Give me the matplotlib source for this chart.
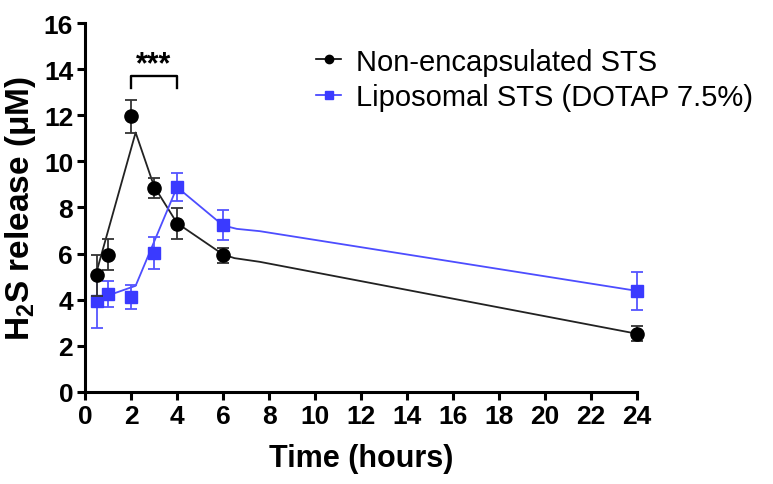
import matplotlib
matplotlib.use('Agg')
import matplotlib.pyplot as plt
from matplotlib.lines import Line2D

plt.rcParams['font.family'] = ['Liberation Sans', 'DejaVu Sans']
plt.rcParams['mathtext.fontset'] = 'custom'
plt.rcParams['mathtext.rm'] = 'Liberation Sans:bold'
plt.rcParams['mathtext.default'] = 'rm'

# measured points (mean +/- SD)
time = [0.5, 1, 2, 3, 4, 6, 24]
free_sts = [5.05, 5.95, 11.95, 8.85, 7.3, 5.92, 2.52]
free_err = [0.9, 0.67, 0.72, 0.44, 0.67, 0.33, 0.33]
lipo_sts = [3.95, 4.24, 4.12, 6.02, 8.9, 7.23, 4.38]
lipo_err = [1.17, 0.58, 0.53, 0.7, 0.6, 0.65, 0.83]

# smoothed connecting curves as drawn in the figure
free_curve_x = [0.5, 2.2, 3, 4, 6, 6.5, 7.6, 24]
free_curve_y = [5.2, 11.25, 8.92, 7.32, 5.96, 5.8, 5.64, 2.52]
lipo_curve_x = [0.5, 1, 2.2, 4, 6, 6.6, 7.6, 24]
lipo_curve_y = [3.95, 4.18, 4.6, 8.88, 7.22, 7.07, 6.97, 4.38]

xticks = list(range(0, 25, 2))
yticks = list(range(0, 17, 2))
labels = ['Non-encapsulated STS', 'Liposomal STS (DOTAP 7.5%)']

BLACK, BLUE = '#000000', '#3a3aff'

fig = plt.figure(figsize=(7.73, 4.85), dpi=100)
ax = fig.add_axes([0.110, 0.19, 0.714, 0.7605])

ax.plot(free_curve_x, free_curve_y, color='#222222', lw=1.3, clip_on=False)
ax.plot(lipo_curve_x, lipo_curve_y, color='#4d4dff', lw=1.3, clip_on=False)
ax.errorbar(time, lipo_sts, yerr=lipo_err, fmt='s', ms=8.5, color=BLUE, mec=BLUE,
            ecolor='#5555ff', elinewidth=1.3, capsize=4.5, capthick=1.3, clip_on=False, zorder=3)
ax.errorbar(time, free_sts, yerr=free_err, fmt='o', ms=9.5, color=BLACK,
            ecolor='#333333', elinewidth=1.3, capsize=4.5, capthick=1.3, clip_on=False, zorder=4)

# significance bracket
ax.plot([2, 2, 4, 4], [13.17, 13.68, 13.68, 13.17], color='black', lw=1.7, clip_on=False)
ax.text(3, 14.2, '***', ha='center', va='center', fontsize=22, fontweight='bold')

ax.set_xlim(0, 24)
ax.set_ylim(0, 16)
ax.set_xticks(xticks)
ax.set_yticks(yticks)
for s in ['top', 'right']:
    ax.spines[s].set_visible(False)
for s in ['left', 'bottom']:
    ax.spines[s].set_linewidth(2.2)
ax.tick_params(width=2.2, length=5.5, labelsize=19, pad=3)
for t in ax.get_xticklabels() + ax.get_yticklabels():
    t.set_fontweight('bold')

ax.set_xlabel('Time (hours)', fontsize=22, fontweight='bold', labelpad=11)
ax.set_ylabel('H$_2$S release (μM)', fontsize=24, fontweight='bold', labelpad=4)

handles = [Line2D([], [], color=BLACK, marker='o', ms=6, lw=1.2),
           Line2D([], [], color=BLUE, marker='s', ms=6, lw=1.2)]
fig.legend(handles, labels, loc='upper left', bbox_to_anchor=(0.383, 0.942),
           frameon=False, fontsize=21, handlelength=0.85, handletextpad=0.5,
           labelspacing=0.25, borderpad=0.2)

fig.savefig('out.png', dpi=100)
